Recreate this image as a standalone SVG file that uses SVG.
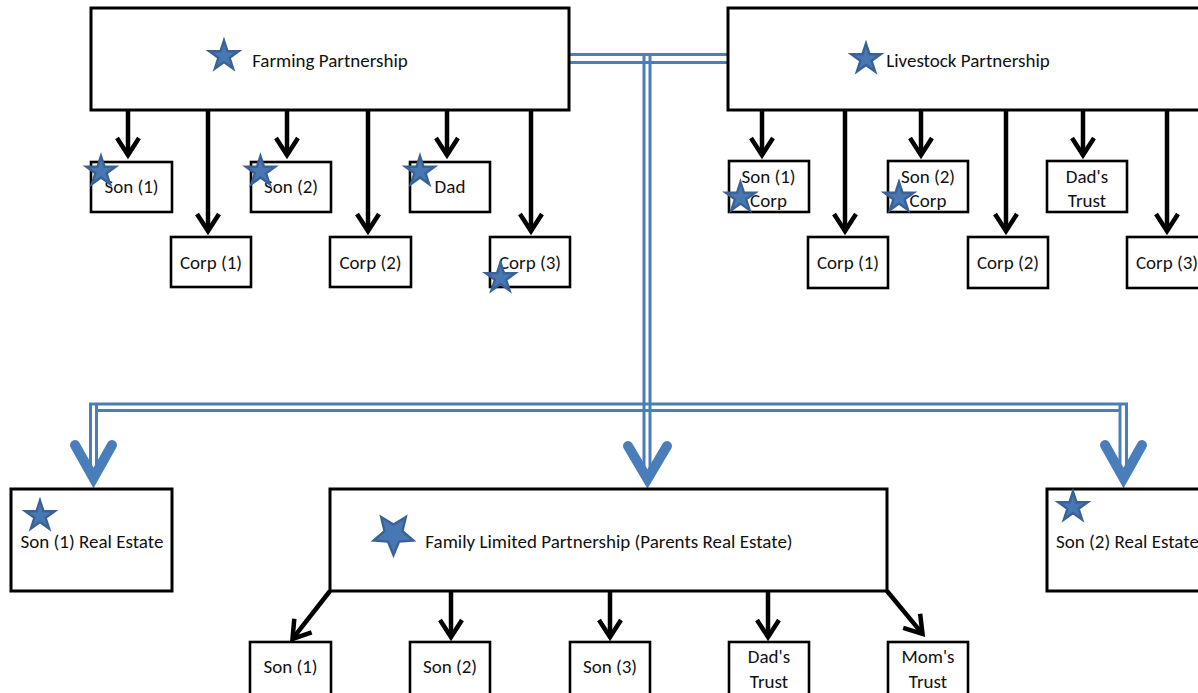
<svg xmlns="http://www.w3.org/2000/svg" xmlns:xlink="http://www.w3.org/1999/xlink" width="1198" height="693" viewBox="0 0 1198 693">
<style>
.box{fill:#fff;stroke:#000;stroke-width:3}
.sbox{fill:#fff;stroke:#000;stroke-width:2.6}
.t{font-family:Carlito,Lato,"Liberation Sans",sans-serif;font-size:19px;fill:#111;text-anchor:middle}
.arr{stroke:#000;stroke-width:4.5;fill:none;marker-end:url(#ah)}
.dbl{stroke:#4A7EBB;stroke-width:3;fill:none}
.bh{stroke:#4A7EBB;stroke-width:10;fill:none;stroke-linecap:round;stroke-linejoin:miter}
.star{fill:#4878B4;stroke:#3A6296;stroke-width:2.4;stroke-linejoin:miter}
</style>
<defs>
<marker id="ah" markerUnits="userSpaceOnUse" markerWidth="40" markerHeight="40" refX="0" refY="0" orient="auto" overflow="visible">
<path d="M-17,-11 L0,0 L-17,11" fill="none" stroke="#000" stroke-width="4.5"/>
</marker>
<polygon id="star" points="0,-15.5 3.48,-4.79 14.74,-4.79 5.63,1.83 9.11,12.54 0,5.92 -9.11,12.54 -5.63,1.83 -14.74,-4.79 -3.48,-4.79"/>
</defs>
<rect width="1198" height="693" fill="#fff"/>

<g id="connectors">
<line class="arr" x1="128" y1="110" x2="128" y2="155"/>
<line class="arr" x1="208" y1="110" x2="208" y2="231"/>
<line class="arr" x1="287" y1="110" x2="287" y2="155"/>
<line class="arr" x1="368" y1="110" x2="368" y2="231"/>
<line class="arr" x1="447" y1="110" x2="447" y2="155"/>
<line class="arr" x1="531" y1="110" x2="531" y2="231"/>
<line class="arr" x1="762" y1="110" x2="762" y2="155"/>
<line class="arr" x1="845" y1="110" x2="845" y2="231"/>
<line class="arr" x1="921" y1="110" x2="921" y2="155"/>
<line class="arr" x1="1006" y1="110" x2="1006" y2="231"/>
<line class="arr" x1="1083" y1="110" x2="1083" y2="155"/>
<line class="arr" x1="1167" y1="110" x2="1167" y2="231"/>
<line class="arr" x1="330" y1="591" x2="292.5" y2="638.9"/>
<line class="arr" x1="451" y1="591" x2="451" y2="637"/>
<line class="arr" x1="610" y1="591" x2="610" y2="637"/>
<line class="arr" x1="768" y1="591" x2="768" y2="637"/>
<line class="arr" x1="887" y1="591" x2="922.5" y2="633.9"/>
<g id="blue-links">
<line class="dbl" x1="569" y1="54.5" x2="728" y2="54.5"/>
<line class="dbl" x1="569" y1="62.5" x2="728" y2="62.5"/>
<line class="dbl" x1="89" y1="404" x2="1128" y2="404"/>
<line class="dbl" x1="96" y1="410.5" x2="1120" y2="410.5"/>
<line class="dbl" x1="644" y1="54.5" x2="644" y2="476"/>
<line class="dbl" x1="650" y1="54.5" x2="650" y2="476"/>
<line class="dbl" x1="90.5" y1="403" x2="90.5" y2="474"/>
<line class="dbl" x1="96.5" y1="403" x2="96.5" y2="474"/>
<line class="dbl" x1="1120" y1="403" x2="1120" y2="474"/>
<line class="dbl" x1="1126.5" y1="403" x2="1126.5" y2="474"/>
<path class="bh" d="M75,445 L93.5,478 L112,445"/>
<path class="bh" d="M628,446 L647.5,479 L667,446"/>
<path class="bh" d="M1105,445 L1123.5,478 L1142,445"/>
</g>
</g>

<g id="farming">
<rect class="box" x="91" y="8" width="478" height="102"/>
<text class="t" x="330" y="67">Farming Partnership</text>
<use xlink:href="#star" class="star" x="224" y="56"/>
</g>
<g id="livestock">
<rect class="box" x="728" y="8" width="482" height="102"/>
<text class="t" x="968" y="67">Livestock Partnership</text>
<use xlink:href="#star" class="star" x="866" y="59"/>
</g>

<g id="f-son1"><rect class="sbox" x="91" y="162" width="81" height="50"/><text class="t" x="131.5" y="193">Son (1)</text><use xlink:href="#star" class="star" x="101" y="171.5"/></g>
<g id="f-son2"><rect class="sbox" x="251" y="162" width="80" height="50"/><text class="t" x="291" y="193">Son (2)</text><use xlink:href="#star" class="star" x="260.5" y="171.5"/></g>
<g id="f-dad"><rect class="sbox" x="410" y="162" width="80" height="50"/><text class="t" x="450" y="193">Dad</text><use xlink:href="#star" class="star" x="420" y="171.5"/></g>
<g id="f-corp1"><rect class="sbox" x="171" y="237" width="80" height="50"/><text class="t" x="211" y="269">Corp (1)</text></g>
<g id="f-corp2"><rect class="sbox" x="330" y="237" width="81" height="50"/><text class="t" x="370.5" y="269">Corp (2)</text></g>
<g id="f-corp3"><rect class="sbox" x="490" y="237" width="80" height="50"/><text class="t" x="530" y="269">Corp (3)</text><use xlink:href="#star" class="star" x="500.5" y="278"/></g>

<g id="l-son1corp"><rect class="sbox" x="729" y="161" width="80" height="51"/><text class="t" x="768.5" y="183">Son (1)</text><text class="t" x="768.5" y="207">Corp</text><use xlink:href="#star" class="star" x="740.5" y="197.5"/></g>
<g id="l-son2corp"><rect class="sbox" x="888" y="161" width="80" height="51"/><text class="t" x="928" y="183">Son (2)</text><text class="t" x="928" y="207">Corp</text><use xlink:href="#star" class="star" x="899" y="197.5"/></g>
<g id="l-dadtrust"><rect class="sbox" x="1047" y="161" width="80" height="51"/><text class="t" x="1087" y="183">Dad's</text><text class="t" x="1087" y="207">Trust</text></g>
<g id="l-corp1"><rect class="sbox" x="808" y="237" width="80" height="51"/><text class="t" x="848" y="269">Corp (1)</text></g>
<g id="l-corp2"><rect class="sbox" x="968" y="237" width="80" height="51"/><text class="t" x="1008" y="269">Corp (2)</text></g>
<g id="l-corp3"><rect class="sbox" x="1127" y="237" width="80" height="51"/><text class="t" x="1167" y="269">Corp (3)</text></g>

<g id="son1-re"><rect class="box" x="11" y="489" width="161" height="102"/><text class="t" x="92" y="548">Son (1) Real Estate</text><use xlink:href="#star" class="star" x="40" y="516"/></g>
<g id="flp"><rect class="box" x="330" y="489" width="557" height="102"/><text class="t" x="609" y="548">Family Limited Partnership (Parents Real Estate)</text>
<polygon class="star" stroke-width="2.5" transform="translate(393.5,534)" points="0,21 5.55,7.64 19.97,6.49 8.99,-2.92 12.34,-16.99 0,-9.45 -12.34,-16.99 -8.99,-2.92 -19.97,6.49 -5.55,7.64"/></g>
<g id="son2-re"><rect class="box" x="1047" y="489" width="165" height="102"/><text class="t" x="1127.5" y="548">Son (2) Real Estate</text><use xlink:href="#star" class="star" x="1073" y="507"/></g>

<g id="b-son1"><rect class="sbox" x="250" y="642" width="81" height="60"/><text class="t" x="290.5" y="673">Son (1)</text></g>
<g id="b-son2"><rect class="sbox" x="410" y="642" width="80" height="60"/><text class="t" x="450" y="673">Son (2)</text></g>
<g id="b-son3"><rect class="sbox" x="570" y="642" width="80" height="60"/><text class="t" x="610" y="673">Son (3)</text></g>
<g id="b-dadtrust"><rect class="sbox" x="729" y="642" width="80" height="60"/><text class="t" x="769" y="663">Dad's</text><text class="t" x="769" y="688">Trust</text></g>
<g id="b-momtrust"><rect class="sbox" x="888" y="642" width="80" height="60"/><text class="t" x="928" y="663">Mom's</text><text class="t" x="928" y="688">Trust</text></g>
</svg>
